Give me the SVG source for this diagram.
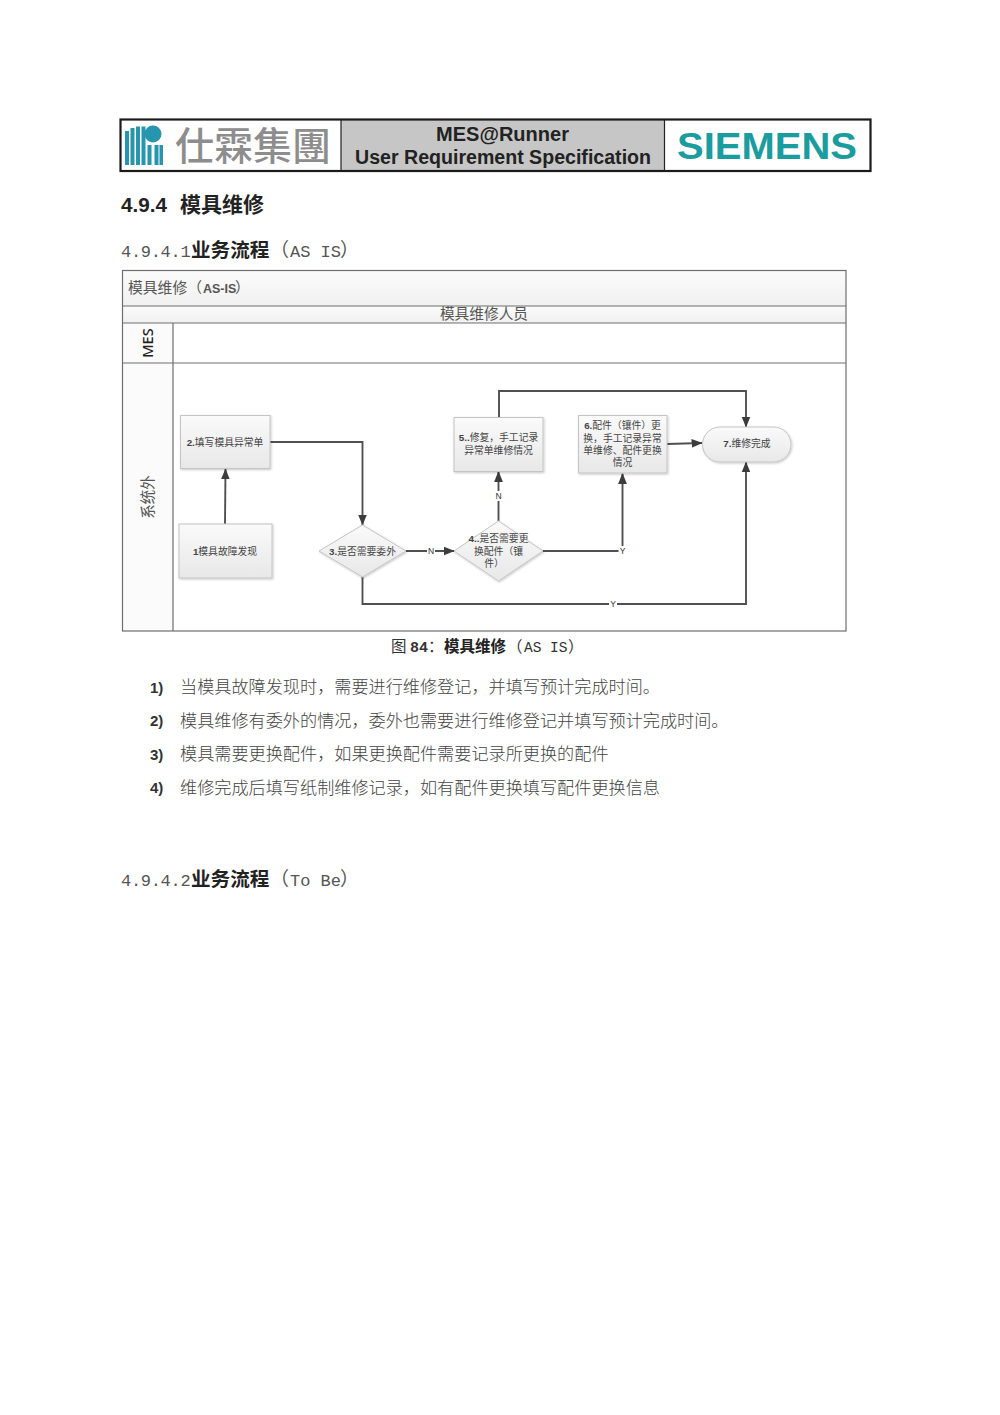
<svg xmlns="http://www.w3.org/2000/svg" width="1000" height="1415" viewBox="0 0 1000 1415">
<style>
text{font-family:"Liberation Sans","Noto Sans CJK SC",sans-serif;fill:#333}
.b{font-weight:700}
.cjk{font-family:"Noto Sans CJK SC",sans-serif}
.mono{font-family:"Liberation Mono","Noto Sans CJK SC",monospace;fill:#555;font-size:17px}
.h{font-size:19.6px;font-weight:700;font-family:"Noto Sans CJK SC",sans-serif;fill:#222}
.p{font-size:19px;font-weight:400;font-family:"Noto Sans CJK SC",sans-serif;fill:#555}
.li{font-size:17.15px;fill:#444;font-family:"Noto Sans CJK SC",sans-serif;font-weight:300}
.num{font-size:15px;font-weight:700;fill:#333}
.hd{font-size:20px;font-weight:700;fill:#222;text-anchor:middle}
.nt{font-size:9.8px;fill:#444;text-anchor:middle}
.lab{font-size:8.5px;fill:#333;text-anchor:middle}
.node{fill:url(#ng);stroke:#c4c4c4;stroke-width:1;filter:url(#sh)}
.frame{fill:none;stroke:#6e6e6e;stroke-width:1.2}
.con{fill:none;stroke:#505050;stroke-width:1.9}
.bar{fill:#2596ad}
</style>
<defs>
<linearGradient id="ng" x1="0" y1="0" x2="0" y2="1"><stop offset="0" stop-color="#fafafa"/><stop offset="1" stop-color="#e8e8e8"/></linearGradient>
<linearGradient id="hg" x1="0" y1="0" x2="0" y2="1"><stop offset="0" stop-color="#fbfbfb"/><stop offset="1" stop-color="#f1f1f1"/></linearGradient>
<filter id="sh" x="-10%" y="-10%" width="125%" height="125%"><feDropShadow dx="0.8" dy="1" stdDeviation="0.8" flood-color="#000" flood-opacity="0.22"/></filter>
<marker id="arr" markerWidth="11" markerHeight="10" refX="9.5" refY="4" orient="auto" markerUnits="userSpaceOnUse" viewBox="0 0 10 8"><path d="M0 0L10 4L0 8Z" fill="#3c3c3c"/></marker>
</defs>
<rect width="1000" height="1415" fill="#fff"/>

<g id="header">
<rect x="341" y="120" width="323" height="50.5" fill="#c6c6c6"/>
<rect x="120.5" y="119.5" width="750" height="51.5" fill="none" stroke="#1a1a1a" stroke-width="2.2"/>
<path d="M341 120V171M664.5 120V171" stroke="#222" stroke-width="1.2"/>
<g id="logo">
<rect class="bar" x="125" y="131" width="4" height="34"/>
<rect class="bar" x="130.5" y="128" width="4" height="37"/>
<rect class="bar" x="136" y="126.5" width="4" height="38.5"/>
<rect class="bar" x="141.5" y="126.5" width="4" height="38.5"/>
<circle class="bar" cx="153" cy="134" r="8.5"/>
<rect class="bar" x="147.5" y="145" width="4" height="20"/>
<rect class="bar" x="154.5" y="145" width="4" height="20"/>
<rect class="bar" x="159.5" y="145" width="3.5" height="20"/>
<text x="175" y="160" font-size="38.5" style="fill:#8d8d8d;font-family:'Noto Sans CJK TC',sans-serif;font-weight:500" textLength="156" lengthAdjust="spacingAndGlyphs">仕霖集團</text>
</g>
<text class="hd" x="502.5" y="141">MES@Runner</text>
<text class="hd" x="503" y="163.5" textLength="296" lengthAdjust="spacingAndGlyphs">User Requirement Specification</text>
<text x="767" y="159" text-anchor="middle" font-size="37" class="b" style="fill:#1b9c9e" textLength="180" lengthAdjust="spacingAndGlyphs">SIEMENS</text>
</g>

<g id="headings">
<text x="121" y="212" font-size="20.7" class="b" style="fill:#222">4.9.4</text>
<text x="180" y="212" class="h" style="font-size:21px">模具维修</text>
<text y="257"><tspan class="mono" x="121" dx="0" letter-spacing="-0.3">4.9.4.1</tspan><tspan class="h" x="191">业务流程</tspan><tspan class="p" x="270">（</tspan><tspan class="mono" x="290">AS IS</tspan><tspan class="p" x="340">）</tspan></text>
</g>

<g id="swimlane">
<rect x="122.5" y="270.5" width="723.5" height="35.5" fill="url(#hg)"/>
<rect x="122.5" y="306" width="723.5" height="17" fill="url(#hg)"/>
<rect x="122.5" y="323" width="50.5" height="308" fill="#fbfbfb"/>
<rect class="frame" x="122.5" y="270.5" width="723.5" height="360.5"/>
<path class="frame" d="M122.5 306H846M122.5 323H846M122.5 363H846M173 323V631"/>
<text x="128" y="293" font-size="14.8" style="fill:#555">模具维修（<tspan x="203" font-size="12.5" class="b">AS-IS</tspan><tspan x="235">）</tspan></text>
<text x="484" y="319" font-size="14.7" text-anchor="middle" style="fill:#555">模具维修人员</text>
<text transform="translate(153,343) rotate(-90)" font-size="14.5" text-anchor="middle" style="fill:#222;font-family:'Noto Sans',sans-serif;font-weight:500">MES</text>
<text transform="translate(153,497) rotate(-90)" font-size="14.5" text-anchor="middle" style="fill:#555">系统外</text>
</g>

<g id="connectors">
<path class="con" d="M225 524L225.5 469" marker-end="url(#arr)"/>
<path class="con" d="M270 442H362.5V525" marker-end="url(#arr)"/>
<path class="con" d="M406 551H454" marker-end="url(#arr)"/>
<path class="con" d="M498.5 521V471.5" marker-end="url(#arr)"/>
<path class="con" d="M543 551H622.5V473.5" marker-end="url(#arr)"/>
<path class="con" d="M499 417V391H746V427" marker-end="url(#arr)"/>
<path class="con" d="M667 444L702 443" marker-end="url(#arr)"/>
<path class="con" d="M362.5 577V604H746V462" marker-end="url(#arr)"/>
<rect x="427" y="546" width="8" height="10" fill="#fff"/><text class="lab" x="431" y="554">N</text>
<rect x="494" y="491" width="9" height="10" fill="#fff"/><text class="lab" x="498.5" y="499">N</text>
<rect x="618.5" y="546" width="8" height="10" fill="#fff"/><text class="lab" x="622.5" y="554">Y</text>
<rect x="609" y="599" width="8" height="10" fill="#fff"/><text class="lab" x="613" y="607">Y</text>
</g>

<g id="n1"><rect class="node" x="179" y="524" width="93" height="54"/><text class="nt" x="225" y="554.5"><tspan class="b">1</tspan>模具故障发现</text></g>
<g id="n2"><rect class="node" x="180.5" y="415.5" width="89.5" height="53"/><text class="nt" x="225" y="445.5"><tspan class="b">2.</tspan>填写模具异常单</text></g>
<g id="n3"><path class="node" d="M362.5 525L406 551L362.5 577L319 551Z"/><text class="nt" x="362.5" y="554.5"><tspan class="b">3.</tspan>是否需要委外</text></g>
<g id="n4"><path class="node" d="M498.5 521L543 551L498.5 581L454 551Z"/><text class="nt" x="498.5" y="541.5"><tspan class="b">4..</tspan>是否需要更</text><text class="nt" x="498.5" y="554.5">换配件（镶</text><text class="nt" x="494" y="567">件）</text></g>
<g id="n5"><rect class="node" x="454" y="417.5" width="89" height="54"/><text class="nt" x="498.5" y="441"><tspan class="b">5..</tspan>修复，手工记录</text><text class="nt" x="498.5" y="454">异常单维修情况</text></g>
<g id="n6"><rect class="node" x="578.5" y="415.5" width="88.5" height="57.5"/><text class="nt" x="622.5" y="429"><tspan class="b">6.</tspan>配件（镶件）更</text><text class="nt" x="622.5" y="441.5">换，手工记录异常</text><text class="nt" x="622.5" y="453.5">单维修、配件更换</text><text class="nt" x="622.5" y="466">情况</text></g>
<g id="n7"><rect class="node" x="702.5" y="427" width="88.5" height="35" rx="17.5"/><text class="nt" x="747" y="447"><tspan class="b">7.</tspan>维修完成</text></g>

<g id="body">
<text y="652" font-size="15.5" class="cjk" style="fill:#333"><tspan x="391">图</tspan><tspan x="410" font-size="15" class="b" style="font-family:'Liberation Mono',monospace">84</tspan><tspan x="428">：</tspan><tspan x="444" class="b" style="fill:#222">模具维修</tspan><tspan x="507">（</tspan><tspan x="524" font-size="14.5" style="font-family:'Liberation Mono',monospace">AS IS</tspan><tspan x="568">）</tspan></text>
<text class="num" x="150" y="692.5">1)</text><text class="li" x="180" y="693">当模具故障发现时，需要进行维修登记，并填写预计完成时间。</text>
<text class="num" x="150" y="726">2)</text><text class="li" x="180" y="726.5">模具维修有委外的情况，委外也需要进行维修登记并填写预计完成时间。</text>
<text class="num" x="150" y="759.5">3)</text><text class="li" x="180" y="760">模具需要更换配件，如果更换配件需要记录所更换的配件</text>
<text class="num" x="150" y="793">4)</text><text class="li" x="180" y="793.5">维修完成后填写纸制维修记录，如有配件更换填写配件更换信息</text>
<text y="885.5"><tspan class="mono" x="121" letter-spacing="-0.3">4.9.4.2</tspan><tspan class="h" x="191">业务流程</tspan><tspan class="p" x="270">（</tspan><tspan class="mono" x="290">To Be</tspan><tspan class="p" x="340">）</tspan></text>
</g>
</svg>
